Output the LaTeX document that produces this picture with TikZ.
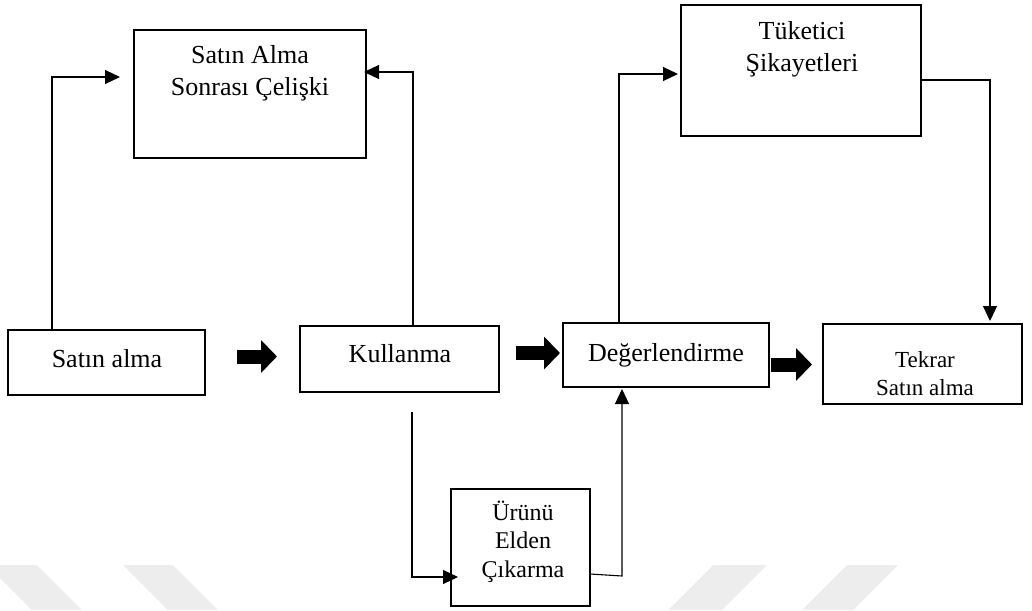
\documentclass[tikz,border=0pt]{standalone}
\usepackage{fontspec}
\setmainfont{Liberation Serif}
\usetikzlibrary{arrows.meta}
\begin{document}
\begin{tikzpicture}[x=1pt,y=-1pt,
  box/.style={draw, line width=1.1pt, inner sep=0pt, outer sep=0pt},
  lbl/.style={anchor=base, inner sep=0pt, align=center},
  big/.style={font=\fontsize{26}{31.5}\selectfont},
  small/.style={font=\fontsize{23}{28}\selectfont},
  smallb/.style={font=\fontsize{24}{28.5}\selectfont},
  conn/.style={line width=1.1pt, -{Triangle[length=15pt,width=14pt]}},
  fat/.style={line width=14pt, -{Triangle[length=16pt,width=32pt]}},
  chevron/.style={fill=black!7, draw=none}]
  \useasboundingbox (0,0) rectangle (1032,610);

  % faint background chevrons along the bottom edge
  \fill[chevron] (-13,565) -- (37,565) -- (82,610) -- (32,610) -- cycle;
  \fill[chevron] (123,565) -- (173,565) -- (218,610) -- (168,610) -- cycle;
  \fill[chevron] (713,565) -- (767,565) -- (722,610) -- (668,610) -- cycle;
  \fill[chevron] (847,565) -- (898,565) -- (853,610) -- (802,610) -- cycle;

  % boxes
  \node[box, minimum width=232pt, minimum height=128pt] (cel) at (250,94) {};
  \node[box, minimum width=240pt, minimum height=131pt] (tuk) at (801,70.5) {};
  \node[box, minimum width=197pt, minimum height=65pt] (sat) at (106.5,362.5) {};
  \node[box, minimum width=199pt, minimum height=66pt] (kul) at (399.5,359) {};
  \node[box, minimum width=206pt, minimum height=64pt] (deg) at (666,355) {};
  \node[box, minimum width=199pt, minimum height=80pt] (tek) at (922.5,364) {};
  \node[box, minimum width=139pt, minimum height=117pt] (uru) at (520.5,547.5) {};

  % box texts (anchored at the baseline of the last line)
  \node[lbl, big] (celt) at (250,95) {Satın Alma\\Sonrası Çelişki};
  \node[lbl, big] (tukt) at (802,71) {Tüketici\\Şikayetleri};
  \node[lbl, big] (satt) at (107,367) {Satın alma};
  \node[lbl, big] (kult) at (400,362) {Kullanma};
  \node[lbl, big] (degt) at (666,361) {Değerlendirme};
  \node[lbl, small] (tekt) at (925,395) {Tekrar\\Satın alma};
  \node[lbl, smallb] (urut) at (523,577) {Ürünü\\Elden\\Çıkarma};

  % main flow
  \draw[fat, shorten <=32pt, shorten >=23pt] (sat.east |- 0,356.5) -- (kul.west |- 0,356.5);
  \draw[fat, shorten <=17pt, shorten >=3pt] (kul.east |- 0,353) -- (deg.west |- 0,353);
  \draw[fat, shorten <=2pt, shorten >=11pt] (deg.east |- 0,364.5) -- (tek.west |- 0,364.5);

  % side branches
  \draw[conn] (sat.north -| 52,0) |- ([xshift=-14pt]cel.west |- 0,77);
  \draw[conn] (kul.north -| 413,0) |- ([xshift=-2pt]cel.east |- 0,72);
  \draw[conn] (deg.north -| 619,0) |- ([xshift=-3pt]tuk.west |- 0,74);
  \draw[conn] (tuk.east |- 0,80) -| ([shift={(67.5pt,3pt)}]tek.north);
  \draw[conn] ([shift={(12.5pt,-20pt)}]kul.south) |- ([xshift=7pt]uru.west |- 0,577);
  \draw[conn] (uru.east |- 0,574) -- (622,576) -- ([shift={(-44pt,-2pt)}]deg.south);
\end{tikzpicture}
\end{document}
